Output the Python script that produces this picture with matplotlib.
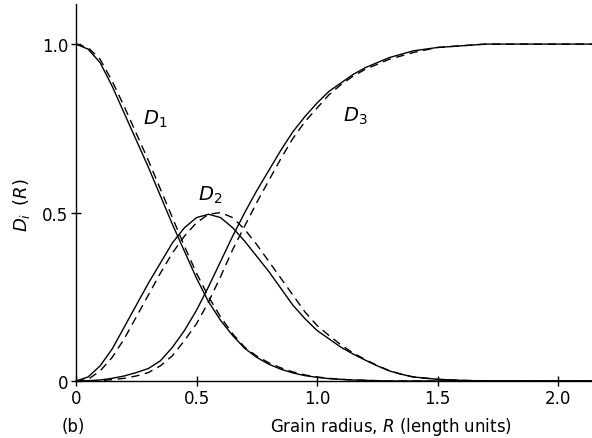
import matplotlib.pyplot as plt

plt.rcParams['font.family'] = 'DejaVu Sans'
plt.rcParams['mathtext.fontset'] = 'dejavusans'

# radius grid (length units)
R = [0.0, 0.05, 0.1, 0.15, 0.2, 0.25, 0.3, 0.35, 0.4, 0.45, 0.5, 0.55, 0.6,
     0.65, 0.7, 0.75, 0.8, 0.85, 0.9, 0.95, 1.0, 1.05, 1.1, 1.15, 1.2, 1.25,
     1.3, 1.35, 1.4, 1.5, 1.6, 1.7, 1.8, 2.0, 2.14]

# solid curves
d1 = [1.0, 0.985, 0.945, 0.875, 0.795, 0.715, 0.635, 0.55, 0.465, 0.385, 0.305, 0.235, 0.18,
      0.135, 0.097, 0.07, 0.05, 0.035, 0.024, 0.016, 0.011, 0.007, 0.005, 0.003, 0.002, 0.001,
      0.0, 0.0, 0.0, 0.0, 0.0, 0.0, 0.0, 0.0, 0.0]
d2 = [0.0, 0.012, 0.045, 0.095, 0.16, 0.225, 0.29, 0.35, 0.41, 0.455, 0.485, 0.495, 0.485,
      0.455, 0.415, 0.37, 0.325, 0.275, 0.225, 0.185, 0.15, 0.125, 0.10, 0.08, 0.062, 0.045,
      0.03, 0.02, 0.012, 0.005, 0.002, 0.0, 0.0, 0.0, 0.0]
d3 = [0.0, 0.001, 0.003, 0.008, 0.015, 0.025, 0.037, 0.06, 0.10, 0.15, 0.21, 0.28, 0.355,
      0.43, 0.50, 0.565, 0.625, 0.685, 0.74, 0.785, 0.825, 0.86, 0.885, 0.91, 0.93, 0.945,
      0.96, 0.97, 0.98, 0.99, 0.995, 1.0, 1.0, 1.0, 1.0]

# dashed curves
d1_dash = [1.0, 0.99, 0.955, 0.89, 0.815, 0.735, 0.655, 0.57, 0.485, 0.40, 0.32, 0.25, 0.19,
           0.14, 0.10, 0.074, 0.054, 0.039, 0.027, 0.018, 0.012, 0.008, 0.005, 0.003, 0.002, 0.001,
           0.0, 0.0, 0.0, 0.0, 0.0, 0.0, 0.0, 0.0, 0.0]
d2_dash = [0.0, 0.005, 0.03, 0.07, 0.125, 0.19, 0.255, 0.32, 0.38, 0.43, 0.47, 0.495, 0.50,
           0.485, 0.45, 0.405, 0.355, 0.305, 0.255, 0.205, 0.165, 0.135, 0.107, 0.083, 0.064, 0.046,
           0.031, 0.02, 0.012, 0.005, 0.002, 0.0, 0.0, 0.0, 0.0]
d3_dash = [0.0, 0.0, 0.001, 0.004, 0.008, 0.015, 0.025, 0.045, 0.075, 0.12, 0.17, 0.235, 0.31,
           0.39, 0.46, 0.53, 0.595, 0.66, 0.72, 0.77, 0.81, 0.85, 0.88, 0.905, 0.925, 0.94,
           0.955, 0.965, 0.975, 0.99, 0.995, 1.0, 1.0, 1.0, 1.0]

fig = plt.figure(figsize=(5.92, 4.39), dpi=100)
ax = fig.add_axes([0.1284, 0.1298, 0.8716, 0.8588])

for y in (d1, d2, d3):
    ax.plot(R, y, color='black', lw=1.0)
for y in (d1_dash, d2_dash, d3_dash):
    ax.plot(R, y, color='black', lw=1.0, linestyle=(0, (6, 4)))

ax.set_xlim(0, 2.141)
ax.set_ylim(0, 1.119)
ax.set_xticks([0, 0.5, 1.0, 1.5, 2.0])
ax.set_xticklabels(['0', '0.5', '1.0', '1.5', '2.0'])
ax.set_yticks([0, 0.5, 1.0])
ax.set_yticklabels(['0', '0.5', '1.0'])
ax.tick_params(direction='inout', length=7, width=1, labelsize=12, pad=2)

for side in ('top', 'right'):
    ax.spines[side].set_visible(False)
for side in ('left', 'bottom'):
    ax.spines[side].set_linewidth(1.0)

# curve labels
ax.text(0.33, 0.78, '$D_1$', fontsize=14, ha='center', va='center')
ax.text(0.555, 0.555, '$D_2$', fontsize=14, ha='center', va='center')
ax.text(1.16, 0.79, '$D_3$', fontsize=14, ha='center', va='center')

fig.text(22 / 592, 1 - 205 / 439, '$D_i\\,$ ($R$)', rotation=90,
         fontsize=13, ha='center', va='center')
fig.text(73 / 592, 1 - 427 / 439, '(b)', fontsize=12, ha='center', va='center')
fig.text(391 / 592, 1 - 427 / 439, 'Grain radius, $R$ (length units)', fontsize=12,
         ha='center', va='center')

fig.savefig('out.png', dpi=100)
